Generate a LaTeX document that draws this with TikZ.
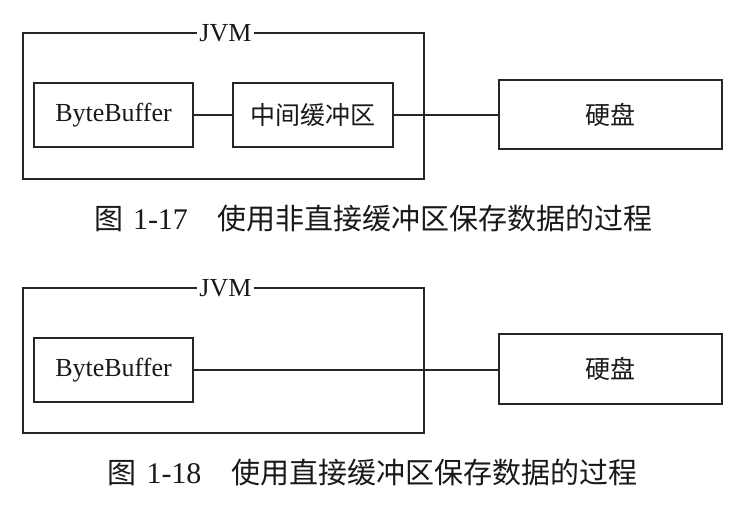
\documentclass[tikz,border=0pt]{standalone}
\usepackage{fontspec}
\setmainfont{Liberation Serif}
\newfontfamily\cjk{Noto Sans CJK SC}
\begin{document}
\begin{tikzpicture}[x=1pt,y=-1pt,
  frame/.style={draw=black!85, line width=1.1pt, rectangle, inner sep=0pt},
  lbl/.style={fill=white, inner xsep=2.5pt, inner ysep=0pt, text=black!90, font=\fontsize{26}{26}\selectfont},
  boxtxt/.style={text=black!90, font=\fontsize{25}{25}\selectfont},
  captxt/.style={text=black!90, font=\fontsize{29}{29}\selectfont, inner sep=0pt},
  conn/.style={draw=black!85, line width=1.1pt}]
\useasboundingbox (0,0) rectangle (754,512);
\fill[white] (0,0) rectangle (754,512);
% top diagram
\node[frame, minimum width=401pt, minimum height=146pt] (jvm1) at (223.5,106) {};
\node[lbl] (jl1) at (225.5,33) {JVM};
\node[frame, boxtxt, minimum width=159pt, minimum height=64pt] (bb1) at (113.5,115) {\fontsize{26}{26}\selectfont ByteBuffer};
\node[frame, boxtxt, minimum width=160pt, minimum height=64pt] (mid) at (313,115) {\cjk 中间缓冲区};
\node[frame, boxtxt, minimum width=223pt, minimum height=69pt] (hd1) at (610.5,114.5) {\cjk 硬盘};
\draw[conn] (bb1.east) -- (mid.west);
\draw[conn] (mid.east) -- (mid.east -| hd1.west);
\node[captxt] (cap1) at (373.5,218.5) {{\cjk 图}\hspace{10pt}{\fontsize{30}{30}\selectfont 1-17}\hspace{30pt}{\cjk 使用非直接缓冲区保存数据的过程}};
% bottom diagram
\node[frame, minimum width=401pt, minimum height=145pt] (jvm2) at (223.5,360.5) {};
\node[lbl] (jl2) at (225.5,288) {JVM};
\node[frame, boxtxt, minimum width=159pt, minimum height=64pt] (bb2) at (113.5,370) {\fontsize{26}{26}\selectfont ByteBuffer};
\node[frame, boxtxt, minimum width=223pt, minimum height=70pt] (hd2) at (610.5,369) {\cjk 硬盘};
\draw[conn] (bb2.east) -- (bb2.east -| hd2.west);
\node[captxt] (cap2) at (372.5,472.5) {{\cjk 图}\hspace{10pt}{\fontsize{30}{30}\selectfont 1-18}\hspace{30pt}{\cjk 使用直接缓冲区保存数据的过程}};
\end{tikzpicture}
\end{document}
